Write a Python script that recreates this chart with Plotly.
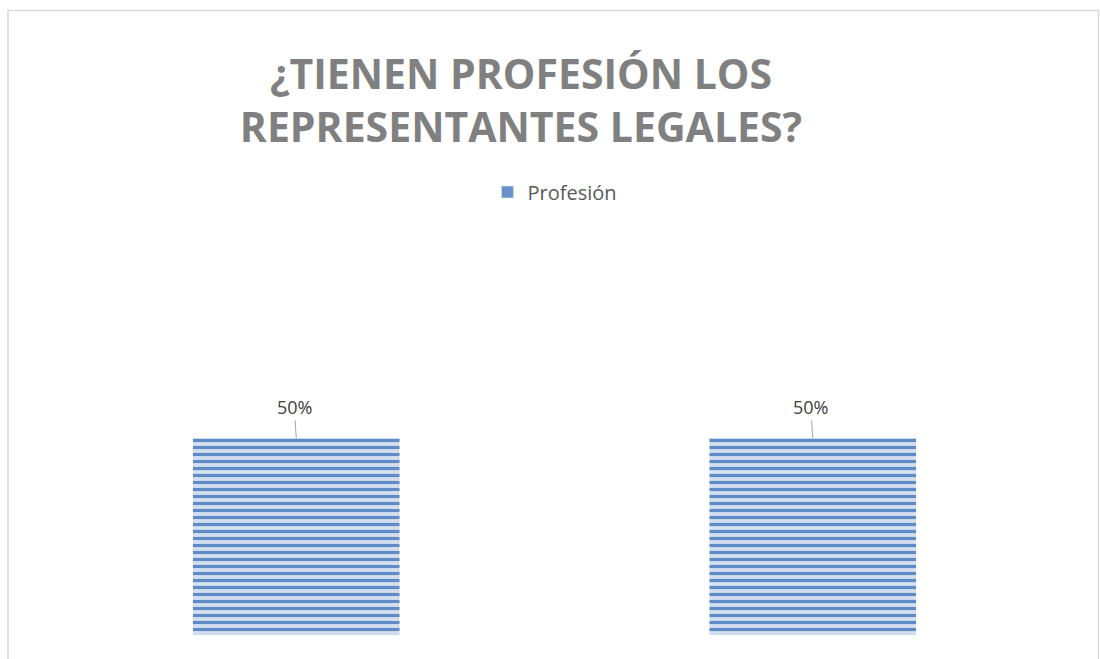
import plotly.graph_objects as go

categories = ["Sí", "No"]
values = [0.5, 0.5]
labels = ["50%", "50%"]
series_name = "Profesión"
title_text = "¿TIENEN PROFESIÓN LOS<br>REPRESENTANTES LEGALES?"

W, H = 1100, 659
L, R, T, B = 37.5, 28.5, 241, 24
pw, ph = W - L - R, H - T - B

def px_x(x):
    return (x - L) / pw

def px_y(y):
    return (H - B - y) / ph

fig = go.Figure()
fig.add_trace(go.Bar(
    x=categories, y=values, name=series_name, width=0.4,
    marker=dict(
        color="#d5e0f0",
        line=dict(width=0),
        pattern=dict(shape="-", fgcolor="#5e8ac6", bgcolor="#d3dfef", size=7, solidity=0.45, fillmode="replace"),
    ),
    showlegend=False,
    hoverinfo="skip",
))
# legend entry with solid swatch
fig.add_trace(go.Bar(x=[None], y=[None], name=series_name, marker=dict(color="#6891c9"), showlegend=True))

for c, v, t in zip(categories, values, labels):
    fig.add_annotation(x=c, y=v, text=t, showarrow=True, arrowhead=0, arrowwidth=1,
                       arrowcolor="#a6a6a6", ax=-2, ay=-31, standoff=0,
                       font=dict(family="Open Sans", size=18, color="#404040"))

fig.add_shape(type="rect", xref="paper", yref="paper",
              x0=px_x(7.5), x1=px_x(1099), y0=px_y(700), y1=px_y(10.5),
              line=dict(color="#d9d9d9", width=1.5), fillcolor="rgba(0,0,0,0)")

fig.update_layout(
    width=W, height=H,
    margin=dict(l=L, r=R, t=T, b=B),
    paper_bgcolor="white", plot_bgcolor="white",
    title=dict(text=title_text, x=521 / W, xanchor="center", y=1 - 89 / H, yanchor="middle",
               font=dict(family="Open Sans", size=41, color="#808080", weight="bold")),
    legend=dict(orientation="h", x=px_x(555), xanchor="center", y=px_y(192), yanchor="middle",
                font=dict(family="Open Sans", size=20, color="#595959"), bgcolor="rgba(0,0,0,0)"),
    xaxis=dict(range=[-0.5, 1.5], showticklabels=False, showgrid=False, zeroline=False, showline=False, ticks=""),
    yaxis=dict(range=[0, 1], showticklabels=False, showgrid=False, zeroline=False, showline=False, ticks=""),
    bargap=0.6,
)

fig.write_html("out.html", config={"displayModeBar": False},
               post_script="document.body.style.margin='0';")
